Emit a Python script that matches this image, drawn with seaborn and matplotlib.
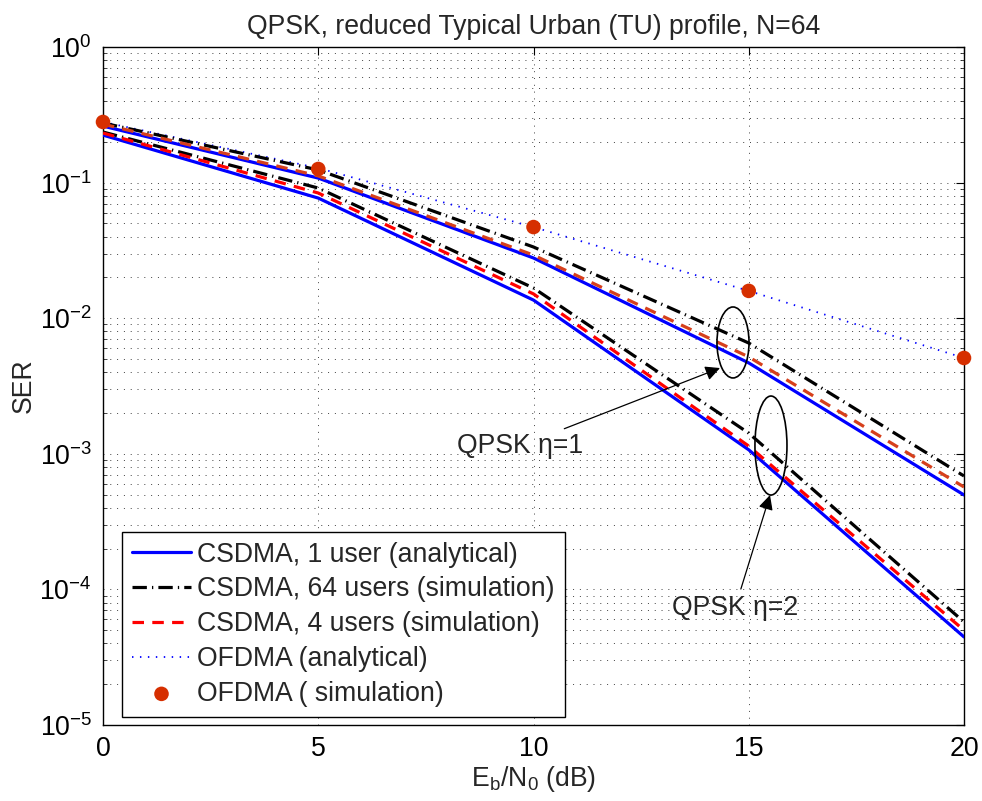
import matplotlib
matplotlib.use("Agg")
import matplotlib.pyplot as plt
from matplotlib.patches import Ellipse
import seaborn as sns

# ---------------- data ----------------
ebn0 = [0, 5, 10, 15, 20]

# eta = 1 group
csdma1_eta1 = [0.261, 0.108, 0.0278, 0.00468, 4.97e-4]
csdma64_eta1 = [0.275, 0.124, 0.0335, 0.00656, 6.86e-4]
csdma4_eta1 = [0.270, 0.112, 0.0292, 0.00518, 5.69e-4]

# eta = 2 group
csdma1_eta2 = [0.224, 0.0769, 0.0136, 1.07e-3, 4.46e-5]
csdma64_eta2 = [0.236, 0.0912, 0.0167, 1.42e-3, 5.75e-5]
csdma4_eta2 = [0.232, 0.0838, 0.0151, 1.14e-3, 5.00e-5]

# OFDMA
ofdma_analytical = [0.280, 0.128, 0.047, 0.0159, 5.09e-3]
ofdma_simulation = [0.280, 0.126, 0.047, 0.0159, 5.09e-3]

labels = ["CSDMA, 1 user (analytical)",
          "CSDMA, 64 users (simulation)",
          "CSDMA, 4 users (simulation)",
          "OFDMA (analytical)",
          "OFDMA ( simulation)"]

title = "QPSK, reduced Typical Urban (TU) profile, N=64"
xticks = [0, 5, 10, 15, 20]

# ---------------- style ----------------
FS = 19.2
sns.set_theme(style="white")
plt.rcParams["font.family"] = ["Liberation Sans", "DejaVu Sans"]
plt.rcParams["mathtext.default"] = "regular"
plt.rcParams["font.size"] = FS

fig = plt.figure(figsize=(9.82, 8.01), dpi=100)
ax = fig.add_axes([103 / 982, 76 / 801, 861 / 982, 678 / 801])
ax.set_yscale("log")

BLUE = "#0000ff"
RED = "#ff0000"
RED2 = "#d6401c"
MARK = "#d62f00"
lw = 2.3
dashdot = (0, (4.5, 1.6, 0.4, 1.6))
dashed = (0, (3.6, 2.6))

sns.lineplot(x=ebn0, y=csdma1_eta1, color=BLUE, lw=lw, ax=ax, label=labels[0], zorder=3)
sns.lineplot(x=ebn0, y=csdma64_eta1, color="black", lw=lw, linestyle=dashdot, ax=ax,
             label=labels[1], zorder=4)
sns.lineplot(x=ebn0, y=csdma4_eta1, color=RED2, lw=lw, linestyle=dashed, ax=ax, zorder=4)
sns.lineplot(x=ebn0, y=csdma1_eta2, color=BLUE, lw=lw, ax=ax, zorder=3)
sns.lineplot(x=ebn0, y=csdma64_eta2, color="black", lw=lw, linestyle=dashdot, ax=ax, zorder=4)
sns.lineplot(x=ebn0, y=csdma4_eta2, color=RED, lw=lw, linestyle=dashed, ax=ax,
             label=labels[2], zorder=4)
sns.lineplot(x=ebn0, y=ofdma_analytical, color=BLUE, lw=1.3, linestyle=(0, (0.8, 3.6)),
             ax=ax, label=labels[3], zorder=3)
sns.scatterplot(x=ebn0, y=ofdma_simulation, color=MARK, s=110, edgecolor="none", ax=ax,
                label=labels[4], zorder=5, clip_on=False)

ax.set_xlim(0, 20)
ax.set_ylim(1e-5, 1)
ax.set_xticks(xticks)
ax.set_xticklabels([str(t) for t in xticks])

# grid
ax.grid(True, which="major", axis="both", color="0.25", lw=0.7, linestyle=(0, (1, 6)))
ax.grid(True, which="minor", axis="y", color="0.25", lw=0.7, linestyle=(0, (1, 6)))

for s in ax.spines.values():
    s.set_color("black")
    s.set_linewidth(1.0)
ax.tick_params(which="major", direction="in", length=6, width=0.8, top=True, right=True,
               labelsize=FS, colors="black")
ax.tick_params(which="minor", direction="in", length=3, width=0.6, left=True, right=True)
ax.tick_params(axis="x", pad=8)
ax.tick_params(axis="y", pad=8)

ax.set_title(title, fontsize=FS, pad=9)
ax.set_xlabel("E$_\\mathregular{b}$/N$_\\mathregular{0}$ (dB)", fontsize=FS, labelpad=1)
ax.set_ylabel("SER", fontsize=FS, labelpad=2)

# annotations: ellipses and arrows
ax.add_patch(Ellipse((0.7317, 0.5642), 0.0372, 0.1047, transform=ax.transAxes,
                     fill=False, ec="black", lw=1.2, zorder=6))
ax.add_patch(Ellipse((0.7758, 0.4122), 0.0372, 0.146, transform=ax.transAxes,
                     fill=False, ec="black", lw=1.2, zorder=6))
ax.annotate("QPSK η=1", xy=(0.7166, 0.5265), xycoords="axes fraction",
            xytext=(0.5575, 0.4115), textcoords="axes fraction", ha="right", va="center",
            fontsize=FS,
            arrowprops=dict(arrowstyle="-|>", color="black", lw=0.9, mutation_scale=22,
                            shrinkA=2, shrinkB=0), zorder=7)
ax.annotate("QPSK η=2", xy=(0.7747, 0.3392), xycoords="axes fraction",
            xytext=(0.734, 0.1726), textcoords="axes fraction", ha="center", va="center",
            fontsize=FS,
            arrowprops=dict(arrowstyle="-|>", color="black", lw=0.9, mutation_scale=22,
                            shrinkA=2, shrinkB=0), zorder=7)

# legend
h, l = ax.get_legend_handles_labels()
order = [labels.index(x) for x in l]
pairs = sorted(zip(order, h, l))
leg = ax.legend([p[1] for p in pairs], [p[2] for p in pairs], loc="lower left",
                bbox_to_anchor=(0.0221, 0.0118), borderaxespad=0, fontsize=FS,
                handlelength=2.2, handletextpad=0.25, labelspacing=0.33, borderpad=0.38,
                frameon=True, fancybox=False, framealpha=1, edgecolor="black")
leg.get_frame().set_linewidth(1.0)
leg.set_zorder(10)

fig.savefig("out.png", dpi=100)
